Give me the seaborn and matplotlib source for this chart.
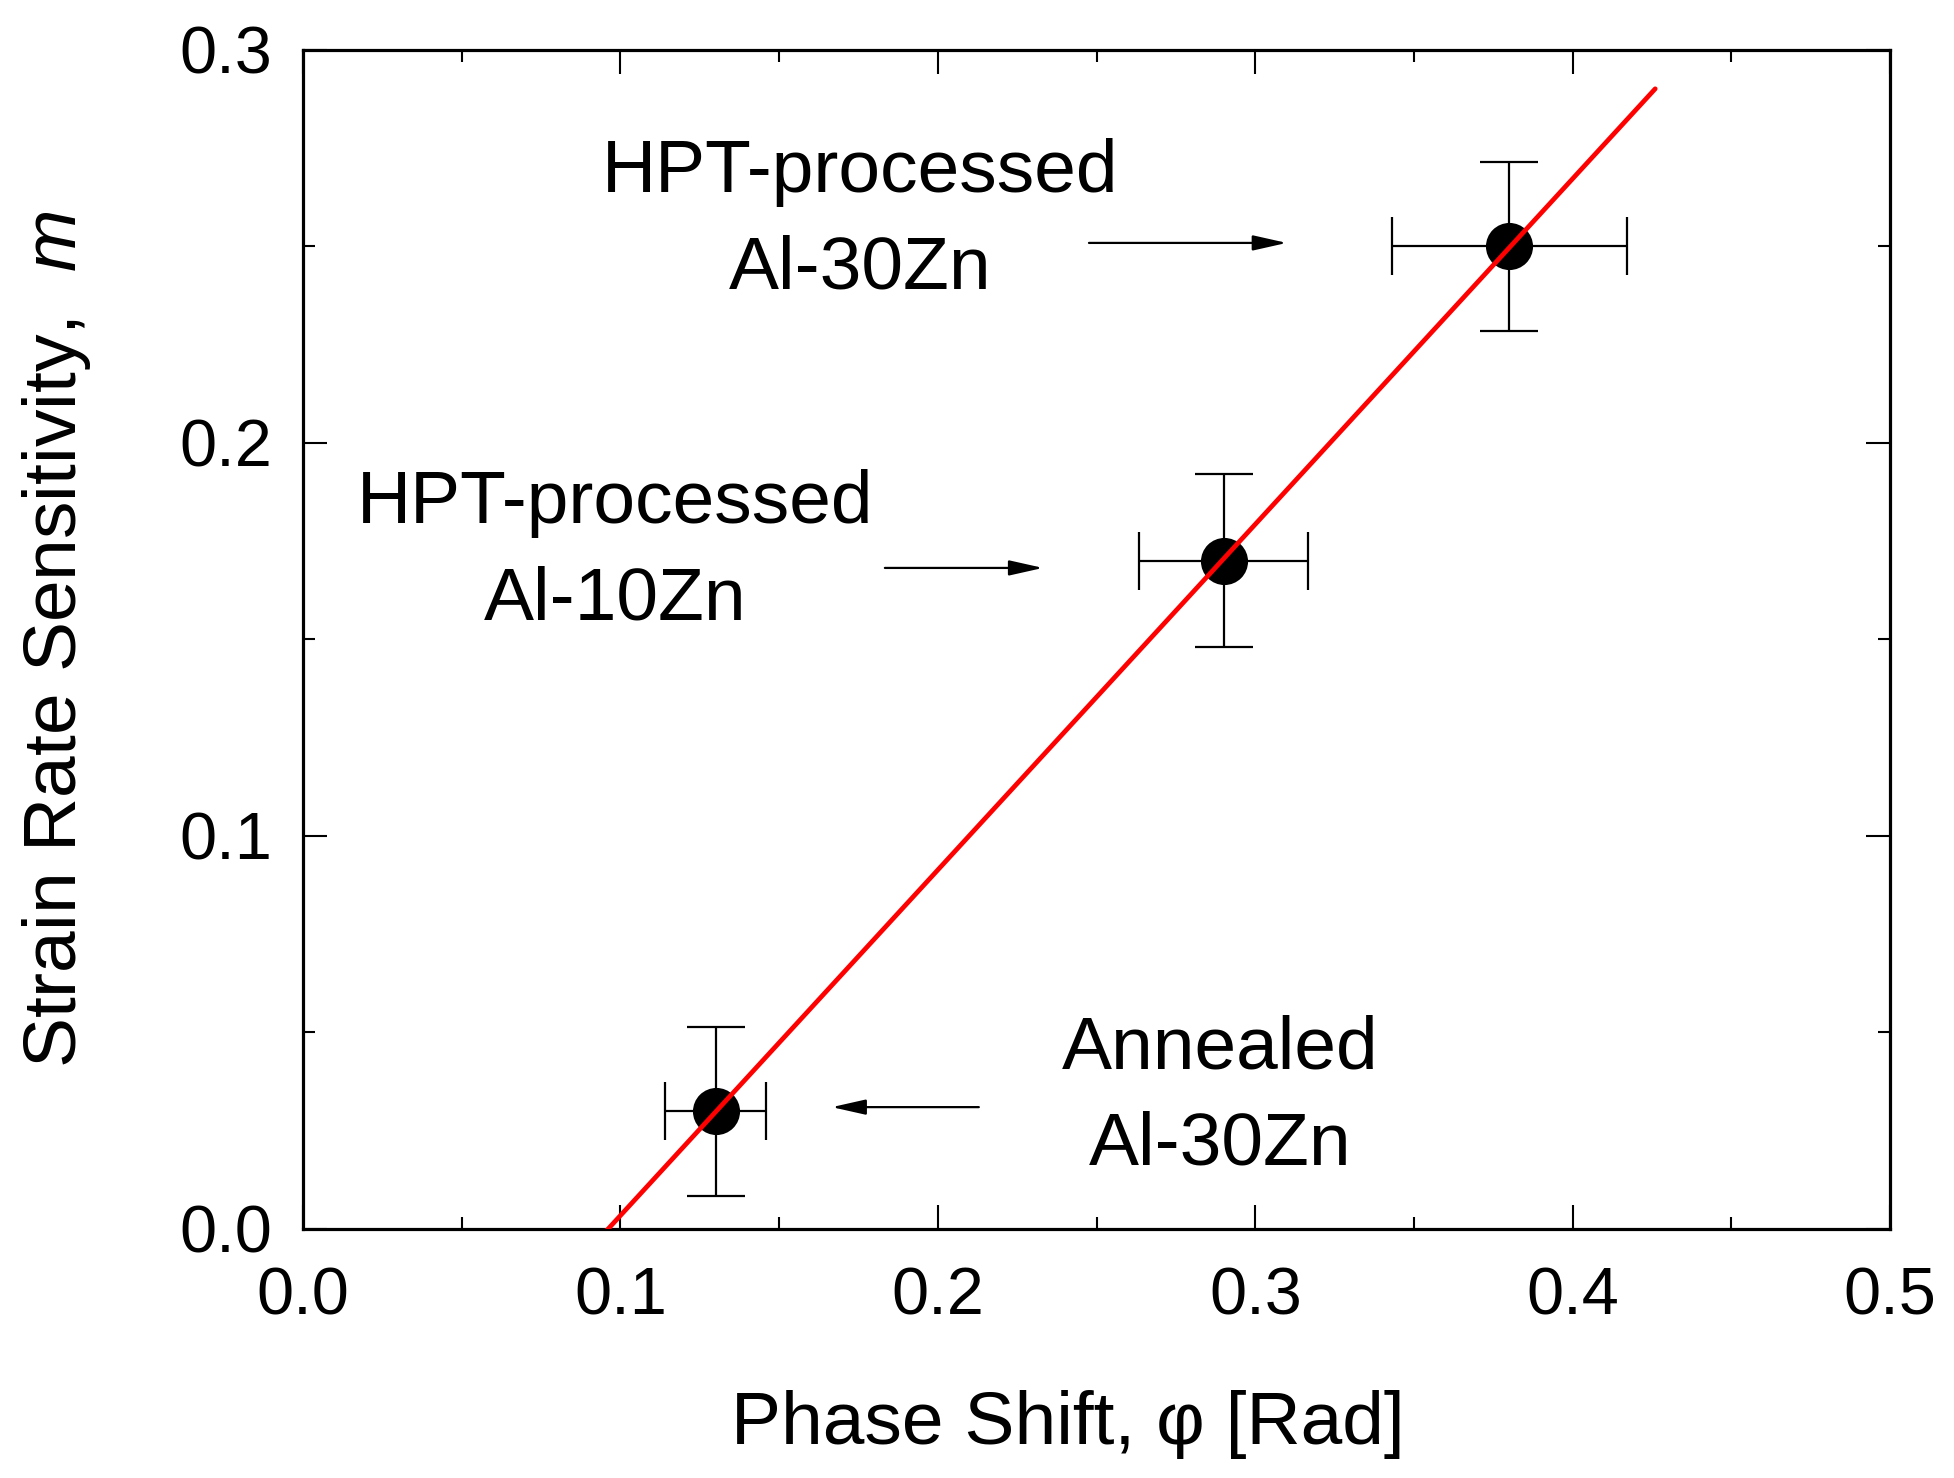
import matplotlib
matplotlib.use("Agg")
import matplotlib.pyplot as plt
from matplotlib.ticker import MultipleLocator, FormatStrFormatter
import seaborn as sns
import numpy as np
import pandas as pd

# measured points: phase shift vs strain rate sensitivity
phase_shift = [0.13, 0.29, 0.38]
srs_m = [0.030, 0.170, 0.250]
phase_err = [0.016, 0.0265, 0.037]
srs_err = [0.0215, 0.022, 0.0215]
fit_range = [0.095, 0.426]

labels = ["Annealed\nAl-30Zn", "HPT-processed\nAl-10Zn", "HPT-processed\nAl-30Zn"]
# position = centre x, baseline of the last line
label_pos = [(0.2888, 0.0163), (0.0984, 0.1552), (0.1754, 0.2394)]
arrow_tail = [(0.2129, 0.031), (0.1833, 0.1682), (0.2476, 0.2509)]
arrow_tip = [(0.1666, 0.031), (0.2331, 0.1682), (0.3099, 0.2509)]

sns.set_theme(style="ticks")
plt.rcParams["font.family"] = ["Liberation Sans", "DejaVu Sans"]
plt.rcParams["mathtext.fontset"] = "custom"
plt.rcParams["mathtext.rm"] = "Liberation Sans"
plt.rcParams["mathtext.it"] = "Liberation Sans:italic"
plt.rcParams["text.color"] = "black"
plt.rcParams["axes.labelcolor"] = "black"

df = pd.DataFrame({"phi": phase_shift, "m": srs_m})

# linear fit through the three points
slope, icpt = np.polyfit(phase_shift, srs_m, 1)
fit_x = np.array(fit_range)
fit_df = pd.DataFrame({"phi": fit_x, "m": slope * fit_x + icpt})

fig = plt.figure(figsize=(19.54, 14.78), dpi=100)
ax = fig.add_axes([0.1551, 0.1685, 0.8122, 0.7977])

ax.errorbar(phase_shift, srs_m, xerr=phase_err, yerr=srs_err, fmt="none",
            ecolor="black", elinewidth=1.6, capsize=21, capthick=1.6, zorder=2)
sns.scatterplot(data=df, x="phi", y="m", s=1150, color="black", linewidth=0,
                zorder=3, ax=ax)
sns.lineplot(data=fit_df, x="phi", y="m", color="red", linewidth=3.4,
             zorder=4, ax=ax)

for txt, (tx, ty) in zip(labels, label_pos):
    ax.text(tx, ty, txt, ha="center", va="baseline", fontsize=54,
            linespacing=1.5, color="black")
for (x0, y0), (x1, y1) in zip(arrow_tail, arrow_tip):
    ax.annotate("", xy=(x1, y1), xytext=(x0, y0),
                arrowprops=dict(arrowstyle="-|>,head_length=0.8,head_width=0.18",
                                mutation_scale=26, lw=1.6, color="black",
                                shrinkA=0, shrinkB=0))

ax.set_xlim(0, 0.5)
ax.set_ylim(0, 0.3)
ax.xaxis.set_major_locator(MultipleLocator(0.1))
ax.xaxis.set_minor_locator(MultipleLocator(0.05))
ax.yaxis.set_major_locator(MultipleLocator(0.1))
ax.yaxis.set_minor_locator(MultipleLocator(0.05))
ax.xaxis.set_major_formatter(FormatStrFormatter("%.1f"))
ax.yaxis.set_major_formatter(FormatStrFormatter("%.1f"))

ax.tick_params(which="both", direction="in", top=True, right=True,
               width=1.5, colors="black", labelcolor="black", labelsize=48)
ax.tick_params(which="major", length=17)
ax.tick_params(which="minor", length=8.5)
ax.tick_params(axis="x", which="major", pad=27)
ax.tick_params(axis="y", which="major", pad=22)
for sp in ax.spines.values():
    sp.set_linewidth(2.3)
    sp.set_color("black")

ax.set_xlabel("Phase Shift, φ [Rad]", fontsize=54)
ax.set_ylabel("Strain Rate Sensitivity,  $\\mathit{m}$", fontsize=54)
ax.xaxis.set_label_coords(0.482, -0.1366)
ax.yaxis.set_label_coords(-0.1323, 0.5)

fig.savefig("out.png", dpi=100, facecolor="white")
